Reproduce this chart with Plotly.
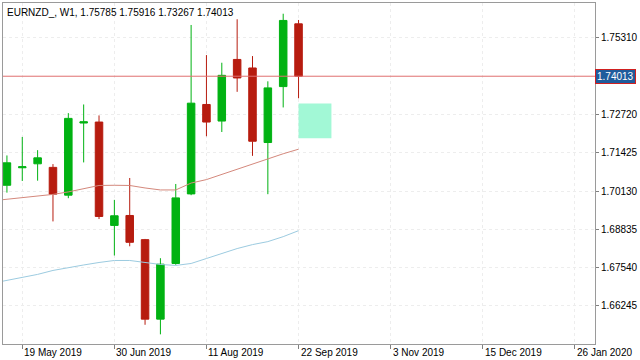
import plotly.graph_objects as go
import pandas as pd

# ---- data ----
week_dates = pd.date_range("2019-05-12", periods=20, freq="7D")
open_p  = [1.70325, 1.70917, 1.71051, 1.70930, 1.69990, 1.72430, 1.72463, 1.68967, 1.69303, 1.68486,
           1.65797, 1.67680, 1.70033, 1.73058, 1.72497, 1.74581, 1.74292, 1.71771, 1.73663, 1.75785]
high_p  = [1.71334, 1.71959, 1.71512, 1.71041, 1.72765, 1.73058, 1.72688, 1.69831, 1.70571, 1.68510,
           1.67858, 1.70369, 1.75747, 1.74728, 1.74470, 1.75939, 1.74695, 1.73841, 1.76127, 1.75916]
low_p   = [1.70076, 1.70470, 1.70480, 1.69102, 1.69888, 1.71098, 1.69182, 1.67949, 1.68261, 1.65606,
           1.65283, 1.67636, 1.69989, 1.71982, 1.72127, 1.73485, 1.71320, 1.70023, 1.72957, 1.73267]
close_p = [1.71085, 1.70950, 1.71253, 1.70023, 1.72587, 1.72470, 1.69270, 1.69293, 1.68396, 1.65797,
           1.67656, 1.69898, 1.73102, 1.72463, 1.74043, 1.73955, 1.71814, 1.73619, 1.75900, 1.74013]

# moving averages (include the week before the first visible candle, which runs off the left edge)
ma_dates = pd.date_range("2019-05-05", periods=21, freq="7D")
ma_red  = [1.69797, 1.69848, 1.69898, 1.69949, 1.70016, 1.70100, 1.70218, 1.70318, 1.70325, 1.70318, 1.70234,
           1.70167, 1.70167, 1.70400, 1.70517, 1.70695, 1.70873, 1.71058, 1.71233, 1.71391, 1.71545]
ma_blue = [1.67007, 1.67108, 1.67209, 1.67310, 1.67444, 1.67545, 1.67629, 1.67713, 1.67781, 1.67781, 1.67713,
           1.67646, 1.67613, 1.67680, 1.67848, 1.68016, 1.68184, 1.68318, 1.68419, 1.68587, 1.68789]

y_ticks = [1.66245, 1.67540, 1.68835, 1.70130, 1.71425, 1.72720, 1.75310]
x_tick_dates = ["2019-05-19", "2019-06-30", "2019-08-11", "2019-09-22", "2019-11-03", "2019-12-15", "2020-01-26"]
x_tick_labels = ["19 May 2019", "30 Jun 2019", "11 Aug 2019", "22 Sep 2019", "3 Nov 2019", "15 Dec 2019", "26 Jan 2020"]

zone_dates = ["2019-09-22", "2019-10-07"]
zone_prices = [1.71915, 1.73092]

title_text = "EURNZD_, W1, 1.75785 1.75916 1.73267 1.74013"
last_price = 1.74013

GREEN = "#01b212"
RED = "#b71c0f"
FONT = "Liberation Sans"

fig = go.Figure()

fig.add_trace(go.Scatter(x=ma_dates, y=ma_red, mode="lines",
                         line=dict(color="#d4887c", width=1), hoverinfo="skip"))
fig.add_trace(go.Scatter(x=ma_dates, y=ma_blue, mode="lines",
                         line=dict(color="#9ccbe0", width=1), hoverinfo="skip"))

fig.add_trace(go.Candlestick(
    x=week_dates, open=open_p, high=high_p, low=low_p, close=close_p,
    increasing=dict(line=dict(color=GREEN, width=1), fillcolor=GREEN),
    decreasing=dict(line=dict(color=RED, width=1), fillcolor=RED),
    whiskerwidth=0,
))

# zone rectangle
fig.add_shape(type="rect", xref="x", yref="y",
              x0=zone_dates[0], x1=zone_dates[1], y0=zone_prices[0], y1=zone_prices[1],
              fillcolor="#a2f8d6", line=dict(width=0), layer="above")
# last price line
fig.add_shape(type="line", xref="paper", yref="y", x0=0, x1=1, y0=last_price, y1=last_price,
              line=dict(color="#e07070", width=1), layer="above")

annotations = []
annotations.append(dict(text=title_text, xref="paper", yref="paper", x=0.003, y=0.995,
                        xanchor="left", yanchor="top", showarrow=False,
                        font=dict(family=FONT, size=10, color="#000000")))
annotations.append(dict(text=f"{last_price:.5f}", xref="paper", yref="y", x=1.0, y=last_price,
                        xanchor="left", yanchor="middle", showarrow=False,
                        bgcolor="#1f5c9c", bordercolor="#d02020", borderwidth=1, borderpad=1,
                        font=dict(family=FONT, size=10, color="#ffffff")))
for d, lab in zip(x_tick_dates, x_tick_labels):
    annotations.append(dict(text=lab, xref="x", yref="paper", x=d, y=0,
                            xanchor="left", yanchor="top", yshift=-1, xshift=0, showarrow=False,
                            font=dict(family=FONT, size=10, color="#000000")))

fig.update_layout(
    width=640, height=360,
    margin=dict(l=2, r=42, t=2, b=16),
    paper_bgcolor="#ffffff", plot_bgcolor="#ffffff",
    showlegend=False,
    annotations=annotations,
    xaxis=dict(type="date", range=["2019-05-10 05:00", "2020-02-04 05:00"],
               rangeslider=dict(visible=False),
               tickvals=x_tick_dates, showticklabels=False,
               ticks="outside", ticklen=4, tickcolor="#808080",
               showgrid=True, gridcolor="#ededed", griddash="dot",
               showline=True, linecolor="#9a9a9a", linewidth=1, mirror=True,
               zeroline=False, fixedrange=True),
    yaxis=dict(side="right", range=[1.64956, 1.76490],
               tickvals=y_ticks, tickformat=".5f",
               ticks="outside", ticklen=3, tickcolor="#808080",
               tickfont=dict(family=FONT, size=10, color="#000000"),
               showgrid=True, gridcolor="#ededed", griddash="dot",
               showline=True, linecolor="#9a9a9a", linewidth=1, mirror=True,
               zeroline=False, fixedrange=True),
)

fig.write_html("out.html", config={"displayModeBar": False},
               post_script="document.body.style.margin='0';document.body.style.overflow='hidden';")
